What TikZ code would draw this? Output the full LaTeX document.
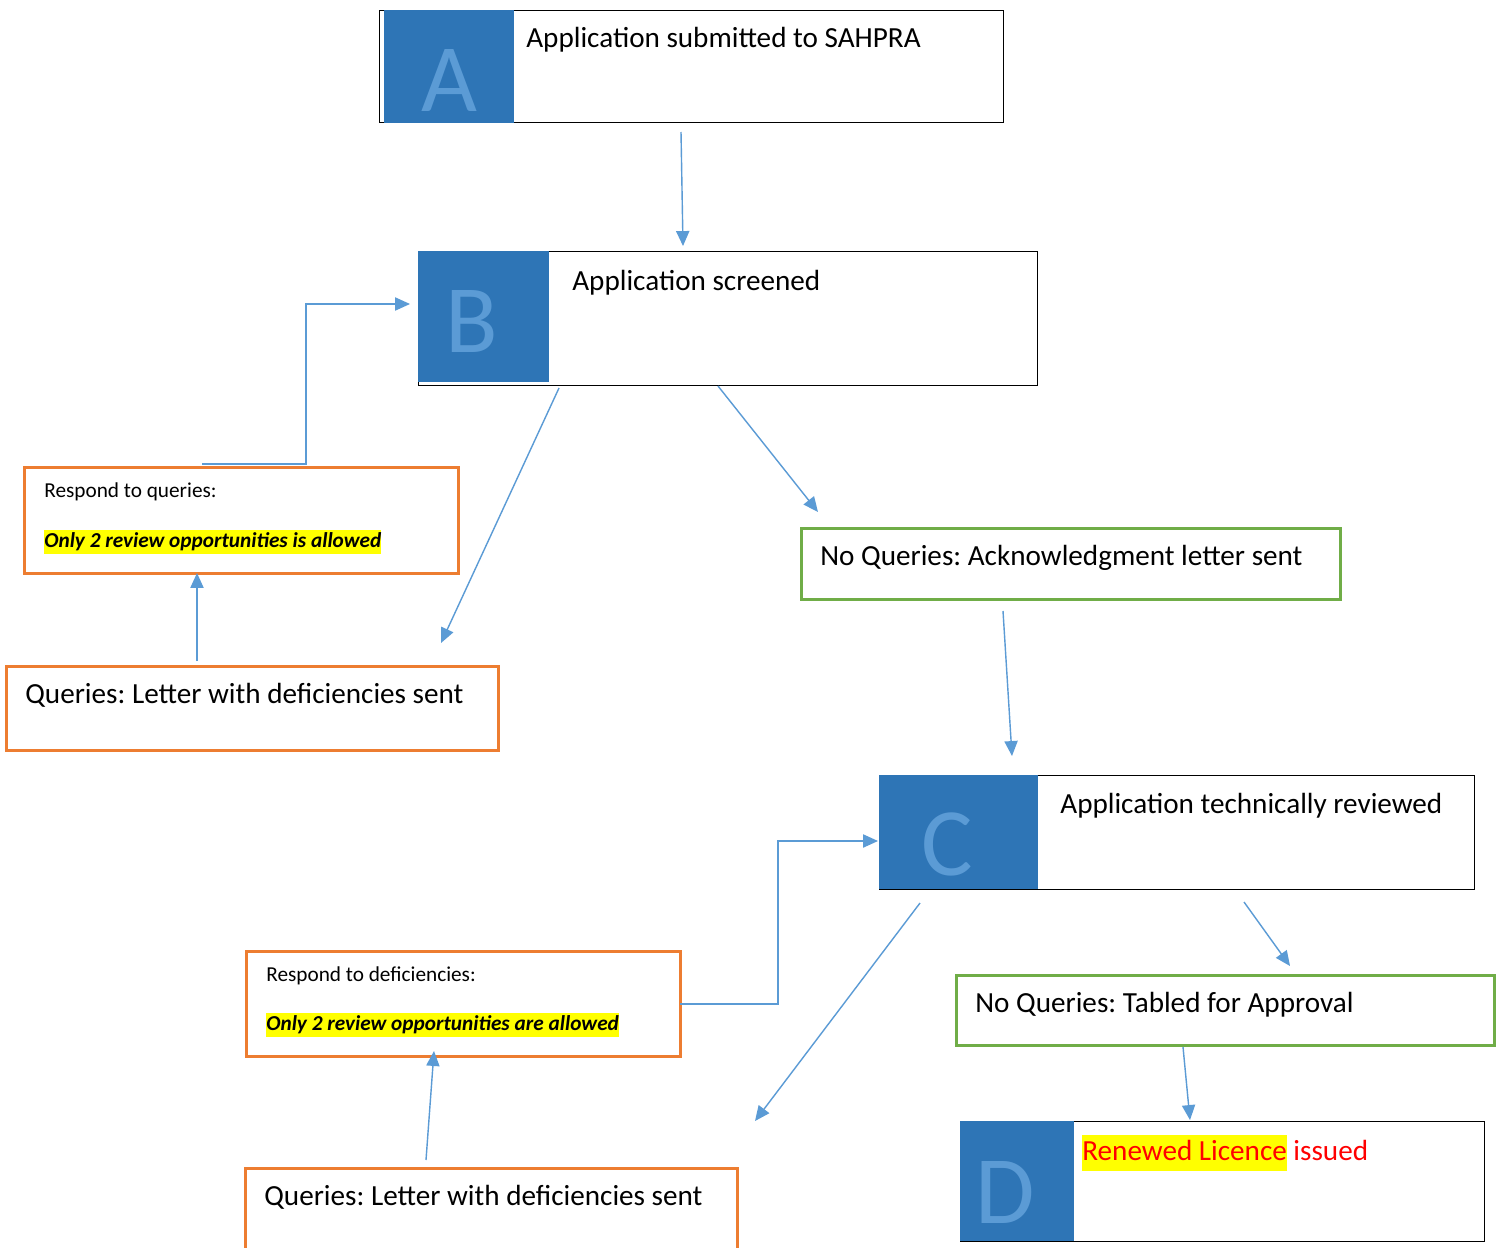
\documentclass[tikz,border=0pt]{standalone}
\usepackage{fontspec}
\setmainfont{Carlito}
\usetikzlibrary{positioning, arrows.meta}
\frenchspacing

\definecolor{stepblue}{HTML}{2E75B6}
\definecolor{letterblue}{HTML}{5B9BD5}
\definecolor{flowblue}{HTML}{5B9BD5}
\definecolor{queryorange}{HTML}{ED7D31}
\definecolor{okgreen}{HTML}{70AD47}
\definecolor{marker}{HTML}{FFFF00}

\newcommand{\boxfont}{\fontsize{16.6}{20}\selectfont}
\newcommand{\notefont}{\fontsize{12.1}{14}\selectfont}
\newcommand{\letterfont}{\fontsize{55}{60}\selectfont}
\newcommand{\marked}[1]{{\setlength{\fboxsep}{0pt}\colorbox{marker}{\strut #1}}}

\tikzset{
  stage/.style={draw=black, line width=0.6pt, fill=white, inner sep=0pt, anchor=north west},
  stepsquare/.style={fill=stepblue, inner sep=0pt, anchor=north west},
  steplabel/.style={text=letterblue, font=\letterfont, inner sep=0pt},
  querybox/.style={draw=queryorange, line width=1.6pt, inner sep=0pt, anchor=north west},
  okbox/.style={draw=okgreen, line width=1.6pt, inner sep=0pt, anchor=north west},
  boxtext/.style={anchor=base west, inner sep=0pt, font=\boxfont},
  notetext/.style={anchor=base west, inner sep=0pt, font=\notefont},
  flow/.style={draw=flowblue, line width=0.8pt, -{Triangle[length=8.5pt,width=7.5pt]}},
}

\begin{document}
\begin{tikzpicture}[x=0.02cm, y=-0.02cm]
    \clip (0,0) rectangle (1500,1247);
    \fill[white] (0,0) rectangle (1500,1247);

    % stage A
    \node[stage, minimum width=12.48cm, minimum height=2.24cm] (A) at (379,10) {};
    \node[stepsquare, minimum width=2.6cm, minimum height=2.26cm] (Asq) at (384,10) {};
    \node[steplabel] (Alet) at (449,81) {A};
    \node[boxtext] (Atxt) at (526,48) {Application submitted to SAHPRA};

    % stage B
    \node[stage, minimum width=12.38cm, minimum height=2.68cm] (B) at (418,251) {};
    \node[stepsquare, minimum width=2.62cm, minimum height=2.62cm] (Bsq) at (418,251) {};
    \node[steplabel] (Blet) at (472,321) {B};
    \node[boxtext] (Btxt) at (572,290) {Application screened};

    % queries after screening
    \node[querybox, minimum width=8.68cm, minimum height=2.12cm] (resp1) at (23,466) {};
    \node[notetext] (resp1a) at (44,497) {Respond to queries:};
    \node[notetext] (resp1b) at (44,547) {\marked{\textbf{\textit{Only 2 review opportunities is allowed}}}};
    \node[querybox, minimum width=9.84cm, minimum height=1.68cm] (qry1) at (5,665) {};
    \node[boxtext] (qry1t) at (25,703) {Queries: Letter with deficiencies sent};

    \node[okbox, minimum width=10.78cm, minimum height=1.42cm] (ack) at (800,527) {};
    \node[boxtext] (ackt) at (820,565) {No Queries: Acknowledgment letter sent};

    % stage C
    \node[stage, minimum width=11.9cm, minimum height=2.28cm] (C) at (879,775) {};
    \node[stepsquare, minimum width=3.18cm, minimum height=2.28cm] (Csq) at (879,775) {};
    \node[steplabel] (Clet) at (947,844) {C};
    \node[boxtext] (Ctxt) at (1060,813) {Application technically reviewed};

    % queries after review
    \node[querybox, minimum width=8.68cm, minimum height=2.1cm] (resp2) at (245,950) {};
    \node[notetext] (resp2a) at (266,981) {Respond to deficiencies:};
    \node[notetext] (resp2b) at (266,1030) {\marked{\textbf{\textit{Only 2 review opportunities are allowed}}}};
    \node[querybox, minimum width=9.84cm, minimum height=2.2cm] (qry2) at (244,1167) {};
    \node[boxtext] (qry2t) at (264,1205) {Queries: Letter with deficiencies sent};

    \node[okbox, minimum width=10.76cm, minimum height=1.4cm] (tabled) at (955,974) {};
    \node[boxtext] (tabledt) at (975,1012) {No Queries: Tabled for Approval};

    % stage D
    \node[stage, minimum width=10.48cm, minimum height=2.4cm] (D) at (960,1121) {};
    \node[stepsquare, minimum width=2.28cm, minimum height=2.4cm] (Dsq) at (960,1121) {};
    \node[steplabel] (Dlet) at (1005,1192) {D};
    \node[boxtext, text=red] (Dtxt) at (1082,1160) {\marked{Renewed Licence} issued};

    % arrow ends
    \coordinate (a1s) at (681,132);   \coordinate (a1e) at (683,246);
    \coordinate (a2s) at (559,388);   \coordinate (a2e) at (441,643);
    \coordinate (a3s) at (718,386);   \coordinate (a3e) at (818,512);
    \coordinate (a4s) at (202,464);   \coordinate (a4e) at (410,304);
    \coordinate (a5s) at (197,661);   \coordinate (a5e) at (197,573);
    \coordinate (a6s) at (1003,611);  \coordinate (a6e) at (1012,756);
    \coordinate (a7s) at (680,1004);  \coordinate (a7e) at (878,841);
    \coordinate (a8s) at (920,903);   \coordinate (a8e) at (755,1121);
    \coordinate (a9s) at (1244,902);  \coordinate (a9e) at (1290,966);
    \coordinate (a10s) at (426,1160); \coordinate (a10e) at (434,1051);
    \coordinate (a11s) at (1183,1047);\coordinate (a11e) at (1190,1120);

    \draw[flow] (a1s) -- (a1e);
    \draw[flow] (a2s) -- (a2e);
    \draw[flow] (a3s) -- (a3e);
    \draw[flow] (a4s) -- (306,464) -- (306,304) -- (a4e);
    \draw[flow] (a5s) -- (a5e);
    \draw[flow] (a6s) -- (a6e);
    \draw[flow] (a7s) -- (778,1004) -- (778,841) -- (a7e);
    \draw[flow] (a8s) -- (a8e);
    \draw[flow] (a9s) -- (a9e);
    \draw[flow] (a10s) -- (a10e);
    \draw[flow] (a11s) -- (a11e);
\end{tikzpicture}
\end{document}
